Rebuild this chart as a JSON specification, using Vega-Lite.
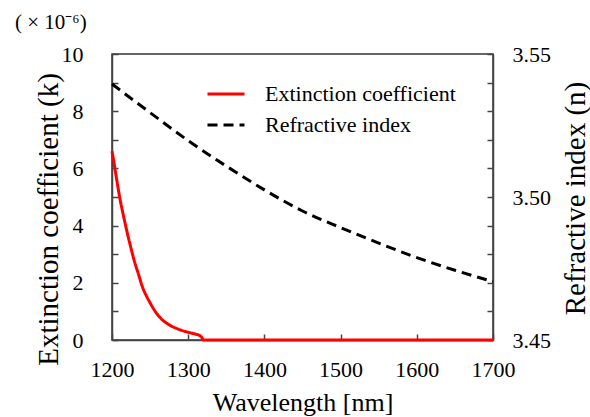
{
  "$schema": "https://vega.github.io/schema/vega-lite/v6.json",
  "autosize": {"type": "none"},
  "padding": {"left": 112, "top": 54, "right": 97, "bottom": 77},
  "width": 381,
  "height": 286,
  "title": {
    "text": "( × 10⁻⁶)",
    "anchor": "start",
    "frame": "group",
    "dx": -97,
    "offset": 10,
    "font": "Liberation Serif",
    "fontSize": 21,
    "fontWeight": "normal",
    "color": "black"
  },
  "config": {
    "view": {"stroke": "#333", "strokeWidth": 1.5},
    "axis": {
      "grid": false,
      "labelFont": "Liberation Serif",
      "labelFontSize": 22,
      "labelColor": "black",
      "titleFont": "Liberation Serif",
      "titleFontSize": 26,
      "titleFontWeight": "normal",
      "titleColor": "black",
      "domainColor": "#444",
      "domainWidth": 1.5,
      "tickColor": "#444",
      "tickWidth": 1.5,
      "tickSize": -6
    },
    "legend": {
      "labelFont": "Liberation Serif",
      "labelFontSize": 22,
      "labelColor": "black",
      "labelLimit": 400
    }
  },
  "data": {
    "values": [
      {"s": "Extinction coefficient", "wl": 1200, "k": 6.6},
      {"s": "Extinction coefficient", "wl": 1202, "k": 6.3},
      {"s": "Extinction coefficient", "wl": 1205, "k": 5.8},
      {"s": "Extinction coefficient", "wl": 1210, "k": 5.0},
      {"s": "Extinction coefficient", "wl": 1215, "k": 4.35},
      {"s": "Extinction coefficient", "wl": 1220, "k": 3.75},
      {"s": "Extinction coefficient", "wl": 1225, "k": 3.2},
      {"s": "Extinction coefficient", "wl": 1230, "k": 2.7},
      {"s": "Extinction coefficient", "wl": 1235, "k": 2.28},
      {"s": "Extinction coefficient", "wl": 1240, "k": 1.85},
      {"s": "Extinction coefficient", "wl": 1245, "k": 1.55},
      {"s": "Extinction coefficient", "wl": 1250, "k": 1.3},
      {"s": "Extinction coefficient", "wl": 1255, "k": 1.07},
      {"s": "Extinction coefficient", "wl": 1260, "k": 0.88},
      {"s": "Extinction coefficient", "wl": 1265, "k": 0.73},
      {"s": "Extinction coefficient", "wl": 1270, "k": 0.62},
      {"s": "Extinction coefficient", "wl": 1275, "k": 0.53},
      {"s": "Extinction coefficient", "wl": 1280, "k": 0.46},
      {"s": "Extinction coefficient", "wl": 1290, "k": 0.35},
      {"s": "Extinction coefficient", "wl": 1300, "k": 0.27},
      {"s": "Extinction coefficient", "wl": 1310, "k": 0.2},
      {"s": "Extinction coefficient", "wl": 1315, "k": 0.16},
      {"s": "Extinction coefficient", "wl": 1318, "k": 0.08},
      {"s": "Extinction coefficient", "wl": 1320, "k": 0},
      {"s": "Extinction coefficient", "wl": 1400, "k": 0},
      {"s": "Extinction coefficient", "wl": 1500, "k": 0},
      {"s": "Extinction coefficient", "wl": 1600, "k": 0},
      {"s": "Extinction coefficient", "wl": 1700, "k": 0},
      {"s": "Refractive index", "wl": 1200, "n": 3.5395},
      {"s": "Refractive index", "wl": 1250, "n": 3.5295},
      {"s": "Refractive index", "wl": 1300, "n": 3.5197},
      {"s": "Refractive index", "wl": 1350, "n": 3.5108},
      {"s": "Refractive index", "wl": 1400, "n": 3.5025},
      {"s": "Refractive index", "wl": 1450, "n": 3.4951},
      {"s": "Refractive index", "wl": 1500, "n": 3.4893},
      {"s": "Refractive index", "wl": 1550, "n": 3.4839},
      {"s": "Refractive index", "wl": 1600, "n": 3.4788},
      {"s": "Refractive index", "wl": 1650, "n": 3.4744},
      {"s": "Refractive index", "wl": 1700, "n": 3.4704}
    ]
  },
  "encoding": {
    "x": {
      "field": "wl",
      "type": "quantitative",
      "scale": {"domain": [1200, 1700], "nice": false},
      "axis": {
        "title": "Wavelength [nm]",
        "values": [1200, 1300, 1400, 1500, 1600, 1700],
        "format": "d",
        "labelFlush": false,
        "labelPadding": 25,
        "titlePadding": 9
      }
    },
    "color": {
      "field": "s",
      "type": "nominal",
      "scale": {"domain": ["Extinction coefficient", "Refractive index"], "range": ["#ff0000", "#000000"]},
      "legend": {
        "title": null,
        "orient": "none",
        "legendX": 94,
        "legendY": 20,
        "symbolType": "stroke",
        "symbolSize": 1369,
        "symbolStrokeWidth": 3,
        "labelOffset": 19,
        "rowPadding": -3
      }
    },
    "strokeDash": {
      "field": "s",
      "type": "nominal",
      "scale": {"domain": ["Extinction coefficient", "Refractive index"], "range": [[1, 0], [10, 6]]},
      "legend": {
        "title": null,
        "orient": "none",
        "legendX": 94,
        "legendY": 20,
        "symbolType": "stroke",
        "symbolSize": 1369,
        "symbolStrokeWidth": 3,
        "labelOffset": 19,
        "rowPadding": -3
      }
    }
  },
  "layer": [
    {
      "transform": [{"filter": "datum.s == 'Extinction coefficient'"}],
      "mark": {"type": "line", "strokeWidth": 3, "interpolate": "monotone"},
      "encoding": {
        "y": {
          "field": "k",
          "type": "quantitative",
          "scale": {"domain": [0, 10], "nice": false},
          "axis": {
            "orient": "left",
            "title": "Extinction coefficient (k)",
            "titleFontSize": 29,
            "titleAngle": 270,
            "titleBaseline": "middle",
            "titleX": -64,
            "titleY": 165,
            "values": [0, 1, 2, 3, 4, 5, 6, 7, 8, 9, 10],
            "labelExpr": "datum.value % 2 == 0 ? datum.label : ''",
            "labelPadding": 35
          }
        }
      }
    },
    {
      "transform": [{"filter": "datum.s == 'Refractive index'"}],
      "mark": {"type": "line", "strokeWidth": 3, "interpolate": "monotone"},
      "encoding": {
        "y": {
          "field": "n",
          "type": "quantitative",
          "scale": {"domain": [3.45, 3.55], "nice": false, "zero": false},
          "axis": {
            "orient": "right",
            "title": "Refractive index (n)",
            "titleFontSize": 29,
            "titleAngle": 270,
            "titleBaseline": "middle",
            "titleX": 82,
            "titleY": 144,
            "values": [3.45, 3.46, 3.47, 3.48, 3.49, 3.5, 3.51, 3.52, 3.53, 3.54, 3.55],
            "format": ".2f",
            "labelExpr": "round(datum.value * 100) % 5 == 0 ? datum.label : ''",
            "labelPadding": 25
          }
        }
      }
    }
  ],
  "resolve": {"scale": {"y": "independent"}}
}
